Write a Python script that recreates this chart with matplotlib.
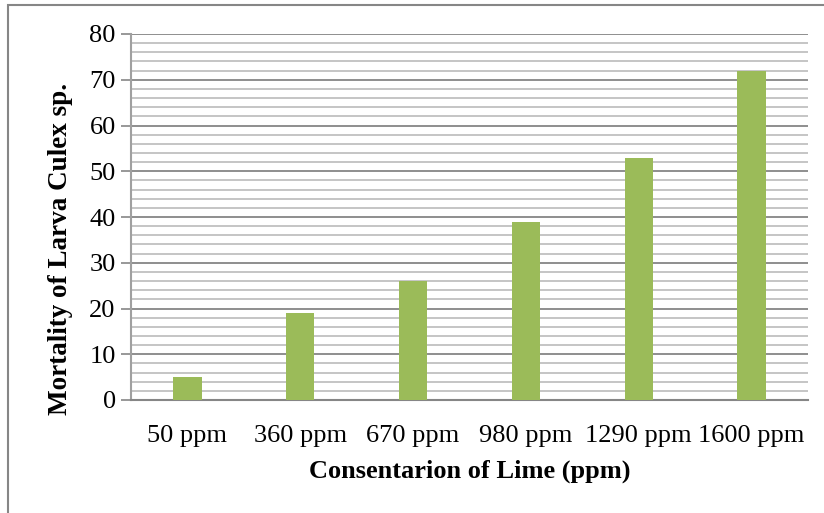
import matplotlib
matplotlib.use("Agg")
import matplotlib.pyplot as plt
import numpy as np
from matplotlib.patches import Rectangle

categories = ["50 ppm", "360 ppm", "670 ppm", "980 ppm", "1290 ppm", "1600 ppm"]
mortality = [5, 19, 26, 39, 53, 72]
yticks = [0, 10, 20, 30, 40, 50, 60, 70, 80]

plt.rcParams['font.family'] = ['Liberation Serif', 'DejaVu Serif']

fig = plt.figure(figsize=(8.24, 5.13), dpi=100)
W, H = 824, 513
ax = fig.add_axes([131 / W, 1 - 400 / H, (808 - 131) / W, (400 - 34) / H])

x = np.arange(len(categories))
ax.bar(x, mortality, width=0.25, color="#9BBB59", zorder=3)

ax.set_xlim(-0.5, len(categories) - 0.5)
ax.set_ylim(0, 80)
ax.set_yticks(yticks)
ax.set_yticks(np.arange(0, 81, 2), minor=True)
ax.set_xticks(x)
ax.set_xticklabels(categories, fontsize=19)
ax.tick_params(axis='y', which='major', labelsize=19, length=7, color="#868686", width=1.2, pad=4)
ax.tick_params(axis='y', which='minor', length=0)
ax.tick_params(axis='x', length=0, pad=18)

ax.grid(axis='y', which='major', color="#868686", linewidth=1.3, zorder=0)
ax.grid(axis='y', which='minor', color="#c0c0c0", linewidth=1.3, zorder=0)

for s in ['top', 'right']:
    ax.spines[s].set_visible(False)
ax.spines['left'].set_color("#a0a0a0")
ax.spines['left'].set_linewidth(1.5)
ax.spines['bottom'].set_color("#868686")
ax.spines['bottom'].set_linewidth(1.5)

ax.set_ylabel("Mortality of Larva Culex sp.", fontsize=19.5, fontweight='bold')
ax.yaxis.set_label_coords(-0.0857, 0.4126)
ax.set_xlabel("Consentarion of Lime (ppm)", fontsize=19, fontweight='bold', labelpad=9)

fig.patches.append(Rectangle((8 / W, -0.1), 1.2, 1 - 5 / H + 0.1, transform=fig.transFigure,
                             fill=False, edgecolor="#868686", linewidth=1.5))

fig.savefig("out.png", dpi=100)
